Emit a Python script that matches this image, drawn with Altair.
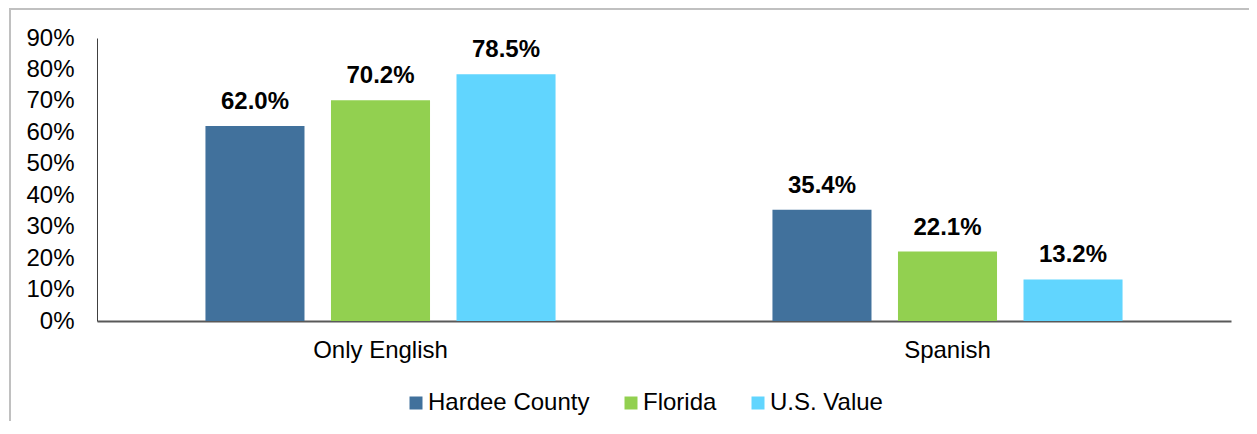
import altair as alt
import pandas as pd

categories = ["Only English", "Spanish"]
series = ["Hardee County", "Florida", "U.S. Value"]
hardee = [62.0, 35.4]
florida = [70.2, 22.1]
us_value = [78.5, 13.2]
colors = ["#41719C", "#92D050", "#61D5FE"]

rows = []
for i, c in enumerate(categories):
    for s, vals in zip(series, [hardee, florida, us_value]):
        rows.append({"category": c, "series": s, "value": vals[i],
                     "label": f"{vals[i]:.1f}%"})
df = pd.DataFrame(rows)

W, H = 1134, 283
FONT = "Liberation Sans"
FS = 24

x = alt.X("category:N", sort=categories, title=None,
          scale=alt.Scale(paddingInner=0, paddingOuter=0),
          axis=alt.Axis(labelAngle=0, ticks=False, labelFontSize=FS,
                        labelColor="#000000", labelFont=FONT,
                        labelBaseline="alphabetic", labelPadding=36,
                        domainColor="#595959", domainWidth=2))
xo = alt.XOffset("series:N", sort=series,
                 scale=alt.Scale(paddingInner=0.211, paddingOuter=0.864))
y = alt.Y("value:Q", title=None,
          scale=alt.Scale(domain=[0, 90], nice=False),
          axis=alt.Axis(values=list(range(0, 100, 10)), labelExpr="datum.value + '%'",
                        ticks=False, grid=False, labelFontSize=FS, labelFont=FONT,
                        labelColor="#000000", labelPadding=23, labelOverlap=False,
                        domainColor="#404040", domainWidth=1))

bars = alt.Chart(df).mark_bar().encode(
    x=x, xOffset=xo, y=y,
    color=alt.Color("series:N", sort=series,
                    scale=alt.Scale(domain=series, range=colors),
                    legend=alt.Legend(title=None, orient="none", direction="horizontal",
                                      legendX=307, legendY=353,
                                      symbolType="square", symbolSize=169,
                                      symbolStrokeWidth=0, labelLimit=400,
                                      labelFontSize=FS, labelFont=FONT,
                                      labelColor="#000000", labelOffset=0,
                                      columnPadding=29)),
)

text = alt.Chart(df).mark_text(fontSize=FS, fontWeight="bold", font=FONT,
                               baseline="alphabetic", dy=-17, color="#000000").encode(
    x=x, xOffset=xo, y=y, text="label:N")

lines = pd.DataFrame({"a": [0]})
top_line = alt.Chart(lines).mark_rule(color="#C0C0C0", strokeWidth=2, clip=False).encode(
    x=alt.value(-88), x2=alt.value(1160), y=alt.value(-29), y2=alt.value(-29))
left_line = alt.Chart(lines).mark_rule(color="#C0C0C0", strokeWidth=2, clip=False).encode(
    x=alt.value(-87), x2=alt.value(-87), y=alt.value(-30), y2=alt.value(400))

chart = alt.layer(top_line, left_line, bars, text).properties(
    width=W, height=H,
    padding={"left": 89, "top": 30, "right": 18, "bottom": 100},
    autosize=alt.AutoSizeParams(type="none"),
    view=alt.ViewBackground(stroke="transparent", strokeWidth=0, strokeOpacity=0),
).configure_view(strokeWidth=0, stroke="transparent", strokeOpacity=0).configure(font=FONT)

chart.save("out.html", embed_options={"renderer": "svg", "actions": False})
